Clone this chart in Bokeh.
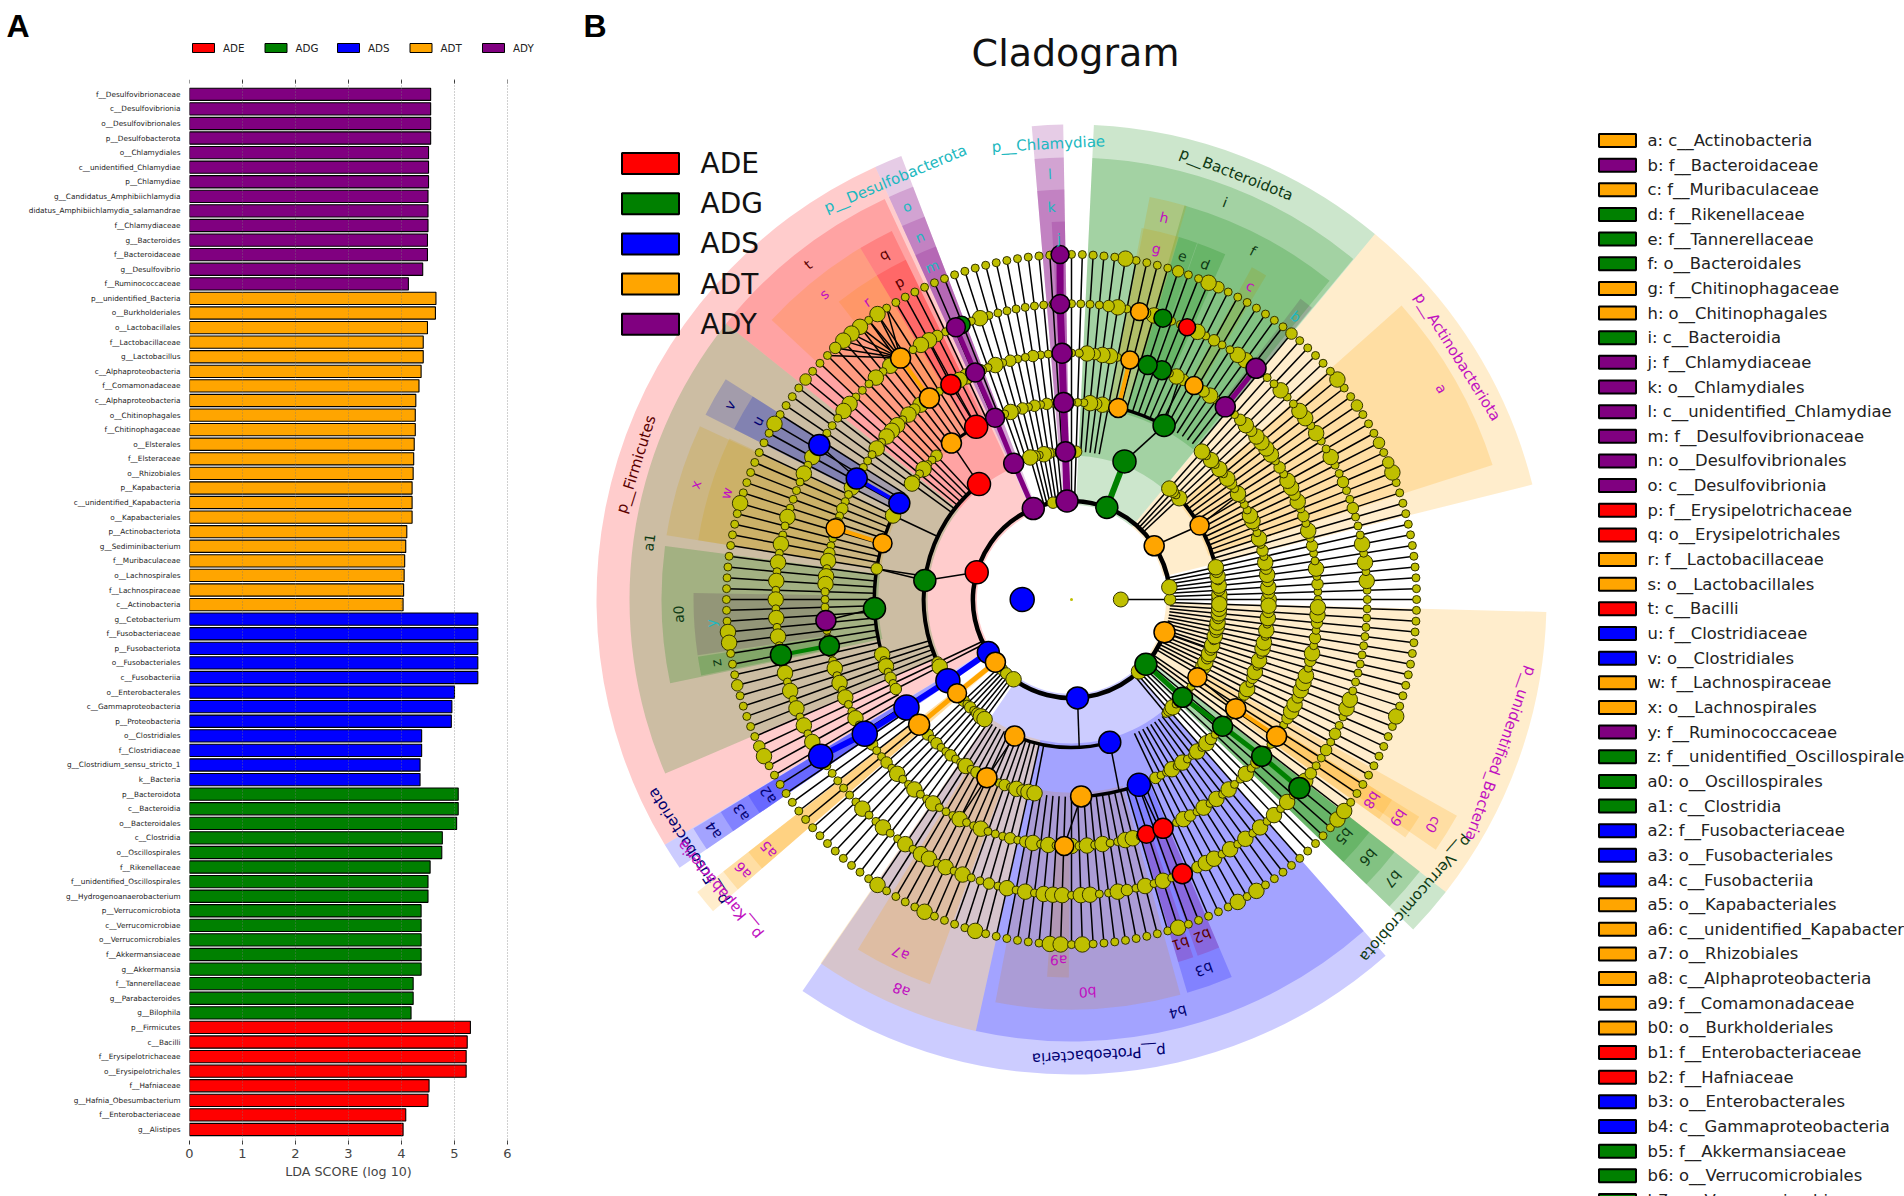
from math import radians, cos, sin
from bokeh.plotting import figure
from bokeh.layouts import row, column
from bokeh.models import ColumnDataSource, FixedTicker, LinearAxis, Range1d
from bokeh.core.properties import value
from bokeh.embed import file_html
from bokeh.resources import INLINE

FONT = "DejaVu Sans"
GROUP_COLOR = {"ADE": "#FF0000", "ADG": "#008000", "ADS": "#0000FF", "ADT": "#FFA500", "ADY": "#800080"}
TEXT_COLOR = {"ADE": "#5A0000", "ADG": "#0E3A14", "ADS": "#000070", "ADT": "#C010C0", "ADY": "#20B8C0"}
groups = ["ADE", "ADG", "ADS", "ADT", "ADY"]

# ---------- panel A data (top to bottom) ----------
ady_names = ["f__Desulfovibrionaceae", "c__Desulfovibrionia", "o__Desulfovibrionales", "p__Desulfobacterota",
             "o__Chlamydiales", "c__unidentified_Chlamydiae", "p__Chlamydiae", "g__Candidatus_Amphibiichlamydia",
             "didatus_Amphibiichlamydia_salamandrae", "f__Chlamydiaceae", "g__Bacteroides", "f__Bacteroidaceae",
             "g__Desulfovibrio", "f__Ruminococcaceae"]
ady_scores = [4.55, 4.55, 4.55, 4.55, 4.51, 4.51, 4.51, 4.50, 4.50, 4.50, 4.49, 4.49, 4.40, 4.13]
adt_names = ["p__unidentified_Bacteria", "o__Burkholderiales", "o__Lactobacillales", "f__Lactobacillaceae",
             "g__Lactobacillus", "c__Alphaproteobacteria", "f__Comamonadaceae", "c__Alphaproteobacteria",
             "o__Chitinophagales", "f__Chitinophagaceae", "o__Elsterales", "f__Elsteraceae", "o__Rhizobiales",
             "p__Kapabacteria", "c__unidentified_Kapabacteria", "o__Kapabacteriales", "p__Actinobacteriota",
             "g__Sediminibacterium", "f__Muribaculaceae", "o__Lachnospirales", "f__Lachnospiraceae", "c__Actinobacteria"]
adt_scores = [4.65, 4.64, 4.49, 4.41, 4.41, 4.37, 4.33, 4.27, 4.26, 4.26, 4.24, 4.23, 4.22, 4.20, 4.20, 4.20,
              4.10, 4.08, 4.06, 4.05, 4.04, 4.03]
ads_names = ["g__Cetobacterium", "f__Fusobacteriaceae", "p__Fusobacteriota", "o__Fusobacteriales", "c__Fusobacteriia",
             "o__Enterobacterales", "c__Gammaproteobacteria", "p__Proteobacteria", "o__Clostridiales",
             "f__Clostridiaceae", "g__Clostridium_sensu_stricto_1", "k__Bacteria"]
ads_scores = [5.44, 5.44, 5.44, 5.44, 5.44, 5.00, 4.95, 4.94, 4.38, 4.38, 4.35, 4.35]
adg_names = ["p__Bacteroidota", "c__Bacteroidia", "o__Bacteroidales", "c__Clostridia", "o__Oscillospirales",
             "f__Rikenellaceae", "f__unidentified_Oscillospirales", "g__Hydrogenoanaerobacterium", "p__Verrucomicrobiota",
             "c__Verrucomicrobiae", "o__Verrucomicrobiales", "f__Akkermansiaceae", "g__Akkermansia", "f__Tannerellaceae",
             "g__Parabacteroides", "g__Bilophila"]
adg_scores = [5.07, 5.07, 5.04, 4.77, 4.76, 4.54, 4.50, 4.50, 4.37, 4.37, 4.37, 4.37, 4.37, 4.22, 4.22, 4.18]
ade_names = ["p__Firmicutes", "c__Bacilli", "f__Erysipelotrichaceae", "o__Erysipelotrichales", "f__Hafniaceae",
             "g__Hafnia_Obesumbacterium", "f__Enterobacteriaceae", "g__Alistipes"]
ade_scores = [5.30, 5.24, 5.22, 5.22, 4.52, 4.50, 4.08, 4.03]
x_ticks = [0, 1, 2, 3, 4, 5, 6]

# ---------- panel B data: shaded clades ----------
clade_labels = ["p__Actinobacteriota", "p__Bacteroidota", "p__Chlamydiae", "p__Desulfobacterota", "p__Firmicutes",
                "p__Fusobacteriota", "p__Kapabacteria", "p__Proteobacteria", "p__Verrucomicrobiota", "p__unidentified_Bacteria",
                "a", "b", "c", "d", "e", "f", "g", "h", "i", "j", "k", "l", "m", "n", "o", "p", "q", "r", "s", "t",
                "u", "v", "w", "x", "y", "z", "a0", "a1", "a2", "a3", "a4", "a5", "a6", "a7", "a8", "a9",
                "b0", "b1", "b2", "b3", "b4", "b5", "b6", "b7", "b8", "b9", "c0"]
clade_levels = [2, 2, 2, 2, 2, 2, 2, 2, 2, 2,
                3, 5, 5, 5, 5, 4, 5, 4, 3, 5, 4, 3, 5, 4, 3, 5, 4, 5, 4, 3,
                5, 4, 5, 4, 5, 5, 4, 3, 5, 4, 3, 4, 3, 4, 3, 5,
                4, 5, 5, 4, 3, 5, 4, 3, 5, 4, 3]
clade_starts = [14, 50.3, 91, 111, 114.4, 211.1, 218, 235.5, 316, 322,
                17.7, 50.5, 59, 66, 70.6, 51, 73.5, 73.7, 50.4, 91, 91, 91, 111, 111, 111, 116, 116, 121, 121, 115,
                147.5, 147.5, 154.8, 155, 179, 188.7, 172.5, 141.4, 211.2, 211.2, 211.2, 218, 218, 238.6, 235.4, 266.3,
                259.3, 286.4, 289.5, 286.4, 257.5, 316, 316, 316, 324.5, 324.5, 325.5]
clade_ends = [50.3, 87.3, 94.8, 114.4, 211.1, 214.4, 221, 311.4, 322, 358.5,
              41.7, 52.7, 61.5, 70.5, 73.5, 74, 79.3, 79, 87.3, 93, 94.8, 94.8, 114.4, 114.4, 114.4, 121, 121, 128, 137, 141.4,
              153.2, 153.2, 171, 171, 188.5, 191.6, 191.8, 203.2, 214.4, 214.4, 214.4, 221, 221, 249.8, 257.5, 269.6,
              285.4, 288.8, 293, 293, 311.4, 322, 322, 322, 328, 328, 330.7]
clade_groups = ["ADT", "ADG", "ADY", "ADY", "ADE", "ADS", "ADT", "ADS", "ADG", "ADT",
                "ADT", "ADY", "ADT", "ADG", "ADG", "ADG", "ADT", "ADT", "ADG", "ADY", "ADY", "ADY", "ADY", "ADY", "ADY",
                "ADE", "ADE", "ADT", "ADT", "ADE", "ADS", "ADS", "ADT", "ADT", "ADY", "ADG", "ADG", "ADG",
                "ADS", "ADS", "ADS", "ADT", "ADT", "ADT", "ADT", "ADT", "ADT", "ADE", "ADE", "ADS", "ADS",
                "ADG", "ADG", "ADG", "ADT", "ADT", "ADT"]

# ---------- panel B data: coloured nodes ----------
node_levels = [1] + [2]*10 + [3]*12 + [4]*16 + [5]*19 + [6]*13 + [7]
node_angles = [180,
               33, 69, 92.6, 112.8, 164, 212.5, 219.5, 273.5, 319, 340.6,
               30, 69, 92.3, 113, 128.7, 172.6, 213.3, 219.3, 247.4, 285, 318.6, 328.3,
               62, 76.3, 92.3, 112.8, 118.9, 127.5, 150.8, 163.4, 182.6, 213.2, 219.4, 244.6, 272.8, 290, 320, 326.4,
               51.4, 60.2, 68.5, 72, 76.3, 92.2, 113, 119.3, 125.2, 150.6, 163.2, 184.9, 190.8, 213, 268.3, 287.7, 291.8, 320.5, 326.3,
               51.4, 67, 72, 76.7, 92.2, 111.8, 113, 125.3, 148.5, 190.8, 212, 292, 320.4,
               91.9]
node_groups = ["ADS",
               "ADT", "ADG", "ADY", "ADY", "ADE", "ADS", "ADT", "ADS", "ADG", "ADT",
               "ADT", "ADG", "ADY", "ADY", "ADE", "ADG", "ADS", "ADT", "ADT", "ADS", "ADG", "ADT",
               "ADG", "ADT", "ADY", "ADY", "ADE", "ADT", "ADS", "ADT", "ADG", "ADS", "ADT", "ADT", "ADT", "ADS", "ADG", "ADT",
               "ADY", "ADT", "ADG", "ADG", "ADT", "ADY", "ADY", "ADE", "ADT", "ADS", "ADT", "ADY", "ADG", "ADS", "ADT", "ADE", "ADE", "ADG", "ADT",
               "ADY", "ADE", "ADG", "ADT", "ADY", "ADG", "ADY", "ADT", "ADS", "ADG", "ADS", "ADE", "ADG",
               "ADY"]
node_sizes = [24,
              20, 22, 22, 22, 23, 22, 20, 22, 22, 21,
              19, 23, 20, 20, 23, 22, 24, 19, 20, 22, 20, 19,
              22, 19, 20, 19, 23, 20, 21, 19, 22, 25, 21, 20, 21, 23, 20, 20,
              20, 18, 19, 19, 18, 20, 19, 20, 20, 21, 19, 20, 20, 25, 19, 18, 20, 20, 20,
              20, 17, 18, 18, 19, 17, 19, 20, 21, 21, 24, 20, 21,
              18]

# ---------- panel B data: non-significant nodes, one character per 1.8 degree slot,
# '-' none, '.' small, 'o' medium, 'O' large ----------
ring2_slots = ["o---O---------------", "--------------------", "----------------o---", "--------------------",
               "--------------------", "--------------------", "-----o-o--O---------", "--------------------",
               "--------------O-----", "--------------------"]
ring3_slots = ["OOoO.OoO------------", "----O.oO------------", "---------o.--..oO.oO", "--------------------",
               "--------------------", "--------------oO----", "----o.o.oOO---------", "--------------------",
               "------------.oO.oO..", "..-o.OOoOoO.OoOOoOOO"]
ring4_slots = ["OoOoOoO.o.O..OO...O.", "oO.O.O.O------------", "----oOoO......o.o.o.", "O.------------o..O..",
               "O-----O--------o----", "---------O.O.o.o----", "----o.o..o..O.o.o..o", ".OoOO---------------",
               "----o..O.O..O.Oo....", "....oO.oO.O.OO.O.OoO"]
ring5_slots = ["..o.O..o.O.o.OoOO.o.", "OOOOoOo....Oo..oO...", ".....OOoO......o..o.", "O.o.OOo....OoO.OOO.O",
               "....oO..o.o...oO.OO.", ".........O.O.O..O...", "o..o.O..O..O...O..O.", "..o.oO.O..O.O.O..OO.",
               ".....Oo.O.O.O..O.o..", "....oOOoOOO.oO.o.oOO"]
ring6_slots = ["..O.O.O...o..o..O..O", ".OO..O....OO..o.O...", "OOo..Oo.............", "O....oOO...O.O...OO.",
               "....O.O....O..O.O.O.", "O.O.O.o.O.O.O.O.O.o.", ".....O..O..O.OO.O.O.", ".o.O.O.OOO.OO..Oo.O.",
               "O...oOO.O.O.O.O.O..O", "o..o.o..OO.........."]
ring7_slots = ["............Oo.o...o", "..O.....o.......oO..", "o....O..............", ".........O.OOOo...o.",
               "...O.......O........", "...OO...o.....oO....", "...........O....O...", ".O......OO.O........",
               "O.....O.O.........OO", ".........O.........."]

# ---------- panel B data: branches ----------
arc_levels = [2, 3, 3, 3, 4, 4, 4, 4, 4, 4]
arc_starts = [7.7, 128.7, 247.4, 15, 25, 118.9, 150.8, 244.6, 272.8, 62]
arc_ends = [340.6, 207.5, 285, 42, 50, 127.5, 197, 258.4, 290, 76.3]
arc_widths = [4.5, 4, 3.5, 4, 3.5, 3, 3.5, 2.5, 3.5, 3.5]
stem_levels = [1, 2, 2, 2, 2, 3, 3, 3, 3, 3, 3, 3, 4, 4, 4, 4, 4, 4, 5, 5]
stem_inner = [0, 33, 164, 273.5, 340.6, 30, 69, 128.7, 172.6, 247.4, 285, 328.3, 62, 118.9, 244.6, 272.8, 290, 182.6, 150.6, 119.3]
stem_outer = [0, 30, 172.6, 273, 340.6, 32, 62, 127.5, 171, 244.6, 284, 326.4, 64, 119.3, 243, 268.3, 291, 184.9, 148.5, 119]
chain_levels = [2, 2, 2, 2, 2, 2, 4, 4, 4, 5, 5, 5, 4]
chain_groups = ["ADY", "ADY", "ADS", "ADT", "ADG", "ADG", "ADT", "ADS", "ADT", "ADG", "ADT", "ADY", "ADT"]
chain_angles = [[92.6, 92.3, 92.3, 92.2, 92.2, 91.9], [112.8, 113, 112.8, 113, 113], [212.5, 213.3, 213.2, 213, 212],
                [219.5, 219.3, 219.4], [319, 318.6, 320, 320.5, 320.4], [69, 69], [163.4, 163.2], [150.8, 150.6],
                [76.3, 76.3], [190.8, 190.8], [125.2, 125.3], [51.4, 51.4], [326.4, 326.3]]
chain_widths = [7, 5, 6, 5, 5, 6, 4, 4, 4, 4, 4, 5, 4]
fan_angle = 125.3
fan_slots = [68, 69, 70, 71, 72, 73, 74, 75]

# ---------- legend of panel B ----------
legend_rows = ["a: c__Actinobacteria", "b: f__Bacteroidaceae", "c: f__Muribaculaceae", "d: f__Rikenellaceae",
               "e: f__Tannerellaceae", "f: o__Bacteroidales", "g: f__Chitinophagaceae", "h: o__Chitinophagales",
               "i: c__Bacteroidia", "j: f__Chlamydiaceae", "k: o__Chlamydiales", "l: c__unidentified_Chlamydiae",
               "m: f__Desulfovibrionaceae", "n: o__Desulfovibrionales", "o: c__Desulfovibrionia", "p: f__Erysipelotrichaceae",
               "q: o__Erysipelotrichales", "r: f__Lactobacillaceae", "s: o__Lactobacillales", "t: c__Bacilli",
               "u: f__Clostridiaceae", "v: o__Clostridiales", "w: f__Lachnospiraceae", "x: o__Lachnospirales",
               "y: f__Ruminococcaceae", "z: f__unidentified_Oscillospirale", "a0: o__Oscillospirales", "a1: c__Clostridia",
               "a2: f__Fusobacteriaceae", "a3: o__Fusobacteriales", "a4: c__Fusobacteriia", "a5: o__Kapabacteriales",
               "a6: c__unidentified_Kapabacter", "a7: o__Rhizobiales", "a8: c__Alphaproteobacteria", "a9: f__Comamonadaceae",
               "b0: o__Burkholderiales", "b1: f__Enterobacteriaceae", "b2: f__Hafniaceae", "b3: o__Enterobacterales",
               "b4: c__Gammaproteobacteria", "b5: f__Akkermansiaceae", "b6: o__Verrucomicrobiales", "b7: c__Verrucomicrobiae"]
legend_groups = ["ADT", "ADY", "ADT", "ADG", "ADG", "ADG", "ADT", "ADT", "ADG", "ADY", "ADY", "ADY", "ADY", "ADY", "ADY",
                 "ADE", "ADE", "ADT", "ADT", "ADE", "ADS", "ADS", "ADT", "ADT", "ADY", "ADG", "ADG", "ADG",
                 "ADS", "ADS", "ADS", "ADT", "ADT", "ADT", "ADT", "ADT", "ADT", "ADE", "ADE", "ADS", "ADS", "ADG", "ADG", "ADG"]

# ---------- page geometry ----------
LEFT_W, RIGHT_W, TOTAL_H, HEAD_H = 570, 1334, 1196, 79
BOTTOM = 52


def bare(p):
    p.axis.visible = False
    p.grid.visible = False
    p.outline_line_color = None
    p.min_border = 0
    p.frame_align = False


# ---------- header of A ----------
head = figure(width=LEFT_W, height=HEAD_H, x_range=(0, 570), y_range=(79, 0), toolbar_location=None,
              output_backend="svg", tools="")
bare(head)
hx = [203 + 72.5 * i for i in range(5)]
head.rect(x=hx, y=47.5, width=22, height=9, fill_color=[GROUP_COLOR[g] for g in groups], line_color="black", line_width=1)
head.text(x=[v + 19.5 for v in hx], y=47.5, text=groups, text_font=value(FONT), text_font_size="10.3px",
          text_baseline="middle", text_color="#222222")
head.text(x=[6], y=[25], text=["A"], text_font=value("Liberation Sans"), text_font_style="bold", text_font_size="32px",
          text_baseline="middle", text_color="black")

# ---------- panel A ----------
names = ady_names + adt_names + ads_names + adg_names + ade_names
scores = ady_scores + adt_scores + ads_scores + adg_scores + ade_scores
bar_groups = ["ADY"]*len(ady_names) + ["ADT"]*len(adt_names) + ["ADS"]*len(ads_names) + ["ADG"]*len(adg_names) + ["ADE"]*len(ade_names)
ypos = list(range(len(names)))
p1 = figure(width=LEFT_W, height=TOTAL_H - HEAD_H, x_range=Range1d(0, 6), y_range=Range1d(72.03, -1.015),
            toolbar_location=None, output_backend="svg", tools="", x_axis_type=None, y_axis_type=None)
p1.outline_line_color = None
p1.frame_align = False
p1.min_border_left, p1.min_border_right, p1.min_border_top, p1.min_border_bottom = 189, 63, 0, BOTTOM
src = ColumnDataSource(dict(y=ypos, right=scores, color=[GROUP_COLOR[g] for g in bar_groups]))
p1.hbar(y="y", left=0, right="right", height=0.84, fill_color="color", line_color="black", line_width=1.1, source=src)

xb = LinearAxis(ticker=FixedTicker(ticks=x_ticks), axis_label="LDA SCORE (log 10)")
xb.axis_line_color = None
xb.major_tick_in, xb.major_tick_out = 4, 0
xb.major_tick_line_color = "#333333"
xb.minor_tick_line_color = None
xb.major_label_text_font = FONT
xb.major_label_text_font_size = "13px"
xb.major_label_standoff = 4
xb.axis_label_text_font = FONT
xb.axis_label_text_font_size = "12.7px"
xb.axis_label_text_font_style = "normal"
xb.axis_label_standoff = 3
p1.add_layout(xb, "below")

top_src = ColumnDataSource(dict(x=x_ticks, y0=[-1.015]*7, y1=[-0.74]*7))
p1.segment(x0="x", x1="x", y0="y0", y1="y1", line_color="#333333", line_width=1, source=top_src)

yl = LinearAxis(ticker=FixedTicker(ticks=ypos))
yl.major_label_overrides = {i: n for i, n in enumerate(names)}
yl.axis_line_color = None
yl.major_tick_line_color = None
yl.minor_tick_line_color = None
yl.major_label_text_font = FONT
yl.major_label_text_font_size = "7.3px"
yl.major_label_text_color = "#222222"
yl.major_label_standoff = 3
p1.add_layout(yl, "left")

grid_src = ColumnDataSource(dict(x=x_ticks[1:], y0=[-1.015]*6, y1=[72.03]*6))
p1.segment(x0="x", x1="x", y0="y0", y1="y1", line_color="#777777", line_width=1, line_dash="1 2", line_alpha=0.7,
           source=grid_src, level="overlay")

# ---------- panel B ----------
CX, CY = 1071.0, 599.0
RING = 49.3
OUTER = {2: 475, 3: 442, 4: 410, 5: 378}
LABEL_R = {2: 456, 3: 426, 4: 393, 5: 361}


def sx(x):
    return x - CX


def sy(y):
    return CY - y


def pol(level, ang):
    r = RING * level
    return r * cos(radians(ang)), r * sin(radians(ang))


p2 = figure(width=RIGHT_W, height=TOTAL_H, x_range=(sx(570), sx(1904)), y_range=(sy(1196), sy(0)),
            toolbar_location=None, output_backend="svg", tools="")
bare(p2)

p2.annular_wedge(x=0, y=0,
                 inner_radius=[RING * l - 4 for l in clade_levels],
                 outer_radius=[OUTER[l] for l in clade_levels],
                 start_angle=[radians(a) for a in clade_starts],
                 end_angle=[radians(a) for a in clade_ends],
                 fill_color=[GROUP_COLOR[g] for g in clade_groups], fill_alpha=0.2, line_color=None)

rings = {2: ring2_slots, 3: ring3_slots, 4: ring4_slots, 5: ring5_slots, 6: ring6_slots, 7: ring7_slots}
BEAD = {".": 8, "o": 11.5, "O": 15.5}
bx, by, bs = [], [], []
sx0, sy0, sx1, sy1 = [], [], [], []
for level, rows in rings.items():
    for slot, ch in enumerate("".join(rows)):
        if ch == "-":
            continue
        a = slot * 1.8
        x, y = pol(level, a)
        bx.append(x); by.append(y); bs.append(BEAD[ch])
        x0, y0 = pol(level - 1, a)
        if level > 2:
            sx0.append(x0); sy0.append(y0); sx1.append(x); sy1.append(y)
for lv, a0, a1 in zip(stem_levels, stem_inner, stem_outer):
    x0, y0 = pol(lv, a0)
    x1, y1 = pol(lv + 1, a1)
    sx0.append(x0); sy0.append(y0); sx1.append(x1); sy1.append(y1)
for slot in fan_slots:
    x0, y0 = pol(6, fan_angle)
    x1, y1 = pol(7, slot * 1.8)
    sx0.append(x0); sy0.append(y0); sx1.append(x1); sy1.append(y1)
p2.segment(x0=sx0, y0=sy0, x1=sx1, y1=sy1, line_color="black", line_width=1.5)

for lv, a0, a1, w in zip(arc_levels, arc_starts, arc_ends, arc_widths):
    p2.arc(x=0, y=0, radius=RING * lv, start_angle=radians(a0), end_angle=radians(a1), line_color="black", line_width=w)

p2.scatter(x=bx, y=by, size=bs, marker="circle", fill_color="#BFBF00", line_color="#333300", line_width=1)
x1y = pol(1, 0)
p2.scatter(x=[x1y[0]], y=[x1y[1]], size=[15], marker="circle", fill_color="#BFBF00", line_color="#333300", line_width=1)
p2.scatter(x=[0], y=[0], size=[3], marker="circle", fill_color="#BFBF00", line_color=None)

for lv, g, angs, w in zip(chain_levels, chain_groups, chain_angles, chain_widths):
    for i in range(len(angs) - 1):
        x0, y0 = pol(lv + i, angs[i])
        x1, y1 = pol(lv + i + 1, angs[i + 1])
        p2.segment(x0=[x0], y0=[y0], x1=[x1], y1=[y1], line_color=GROUP_COLOR[g], line_width=w)

nxy = [pol(l, a) for l, a in zip(node_levels, node_angles)]
p2.scatter(x=[v[0] for v in nxy], y=[v[1] for v in nxy], size=node_sizes, marker="circle",
           fill_color=[GROUP_COLOR[g] for g in node_groups], line_color="black", line_width=1.5)

lab_x, lab_y, lab_a = [], [], []
for l, s, e in zip(clade_levels, clade_starts, clade_ends):
    m = (s + e) / 2
    lab_x.append(LABEL_R[l] * cos(radians(m)))
    lab_y.append(LABEL_R[l] * sin(radians(m)))
    lab_a.append(radians(m - 90))
p2.text(x=lab_x, y=lab_y, text=clade_labels, angle=lab_a, text_font=value(FONT),
        text_font_size=["15px" if l == 2 else "14px" for l in clade_levels],
        text_color=[TEXT_COLOR[g] for g in clade_groups], text_align="center", text_baseline="middle")

p2.text(x=[sx(1075)], y=[sy(52)], text=["Cladogram"], text_font=value(FONT), text_font_size="38px",
        text_align="center", text_baseline="middle", text_color="#111111")
p2.text(x=[sx(583)], y=[sy(25)], text=["B"], text_font=value("Liberation Sans"), text_font_style="bold",
        text_font_size="32px", text_baseline="middle", text_color="black")

gy = [sy(163 + 40.2 * i) for i in range(5)]
p2.rect(x=sx(650), y=gy, width=57, height=21, fill_color=[GROUP_COLOR[g] for g in groups], line_color="black", line_width=2)
p2.text(x=sx(700), y=gy, text=groups, text_font=value(FONT), text_font_size="28px", text_baseline="middle", text_color="#111111")

ly = [sy(140 + 24.65 * i) for i in range(len(legend_rows))]
p2.rect(x=sx(1617), y=ly, width=37, height=13, fill_color=[GROUP_COLOR[g] for g in legend_groups], line_color="black", line_width=2)
p2.text(x=sx(1647), y=ly, text=legend_rows, text_font=value(FONT), text_font_size="16.4px", text_baseline="middle", text_color="#222222")

page = row(column(head, p1, spacing=0), p2, spacing=0)
open("out.html", "w").write(file_html(page, INLINE))
